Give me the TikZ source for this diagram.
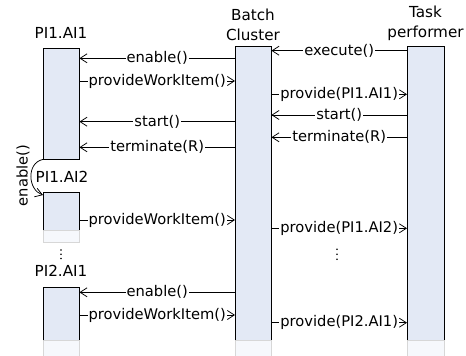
\documentclass[tikz,border=0pt]{standalone}
\usepackage{fontspec}
\setmainfont{DejaVu Sans}
\usetikzlibrary{arrows.meta}
\definecolor{boxfill}{RGB}{227,233,245}
\definecolor{fadefill}{RGB}{246,248,252}
\definecolor{fadeline}{RGB}{215,215,215}
\tikzset{
  lifebox/.style={fill=boxfill, inner sep=0pt, minimum width=36pt, anchor=north west},
  border/.style={line width=0.8pt, draw=black},
  fadebox/.style={fill=fadefill, draw=fadeline, line width=0.6pt},
  msg/.style={line width=0.75pt, -{Straight Barb[length=7pt,width=9pt,line width=0.75pt]}},
  lbl/.style={fill=white, inner xsep=1pt, inner ysep=0pt, font=\fontsize{14.7}{17}\selectfont},
  title/.style={font=\fontsize{15.2}{20}\selectfont, align=center, inner sep=0pt, anchor=base},
  dotmark/.style={fill=black}
}
\begin{document}
\begin{tikzpicture}[x=1pt,y=-1pt]
\useasboundingbox (0,0) rectangle (466,356);

% lifeline boxes
\node[lifebox, minimum height=111pt] (a1) at (43,48) {};
\draw[border] (a1.north west) rectangle (a1.south east);

\node[lifebox, minimum height=38pt] (a2) at (43,192) {};
\draw[fadebox] (a2.south west) rectangle ++(36,12);
\draw[border] (a2.south west) -- (a2.north west) -- (a2.north east) -- (a2.south east);

\node[lifebox, minimum height=53pt] (p2) at (43,287) {};
\draw[fadebox] (p2.south west) rectangle ++(36,16);
\draw[border] (p2.south west) -- (p2.north west) -- (p2.north east) -- (p2.south east);

\node[lifebox, minimum height=294pt] (bc) at (235,46) {};
\draw[fadebox] (bc.south west) rectangle ++(36,16);
\draw[border] (bc.south west) -- (bc.north west) -- (bc.north east) -- (bc.south east);

\node[lifebox, minimum height=294pt, minimum width=37pt] (tp) at (407,46) {};
\draw[fadebox] (tp.south west) rectangle ++(37,16);
\draw[border] (tp.south west) -- (tp.north west) -- (tp.north east) -- (tp.south east);

% titles
\node[title] (ta1) at (61,38) {PI1.AI1};
\node[title] (ta2) at (62,182.3) {PI1.AI2};
\node[title] (tp2) at (61,276.7) {PI2.AI1};
\node[title] (tbc) at (253,40.5) {Batch\\Cluster};
\node[title] (ttp) at (425.5,37.5) {Task\\performer};

% messages between PI1.AI1 and Batch Cluster
\draw[msg] (bc.west |- 0,58.3) -- node[lbl]{enable()} (a1.east |- 0,58.3);
\draw[msg] (a1.east |- 0,81) -- node[lbl]{provideWorkItem()} (bc.west |- 0,81);
\draw[msg] (bc.west |- 0,121.7) -- node[lbl]{start()} (a1.east |- 0,121.7);
\draw[msg] (bc.west |- 0,147.3) -- node[lbl]{terminate(R)} (a1.east |- 0,147.3);

% messages between Batch Cluster and Task performer
\draw[msg] (tp.west |- 0,50.7) -- node[lbl]{execute()} (bc.east |- 0,50.7);
\draw[msg] (bc.east |- 0,94.3) -- node[lbl]{provide(PI1.AI1)} (tp.west |- 0,94.3);
\draw[msg] (tp.west |- 0,115) -- node[lbl]{start()} (bc.east |- 0,115);
\draw[msg] (tp.west |- 0,137.3) -- node[lbl]{terminate(R)} (bc.east |- 0,137.3);

% PI1.AI2
\draw[msg] (a1.south west) .. controls (26,163) and (28,190) .. (a2.west |- 0,195);
\node[lbl, fill=none, rotate=90] (en2) at (23,175.5) {enable()};
\draw[msg] (a2.east |- 0,220) -- node[lbl]{provideWorkItem()} (bc.west |- 0,220);
\draw[msg] (bc.east |- 0,228.3) -- node[lbl]{provide(PI1.AI2)} (tp.west |- 0,228.3);

% ellipsis dots
\foreach \yy in {250,254.2,258.4} \fill[dotmark] (61,\yy) circle (0.9pt);
\foreach \yy in {249.2,254.2,259.2} \fill[dotmark] (337,\yy) circle (0.9pt);

% PI2.AI1
\draw[msg] (bc.west |- 0,292.3) -- node[lbl]{enable()} (p2.east |- 0,292.3);
\draw[msg] (p2.east |- 0,315) -- node[lbl]{provideWorkItem()} (bc.west |- 0,315);
\draw[msg] (bc.east |- 0,322.7) -- node[lbl]{provide(PI2.AI1)} (tp.west |- 0,322.7);
\end{tikzpicture}
\end{document}
